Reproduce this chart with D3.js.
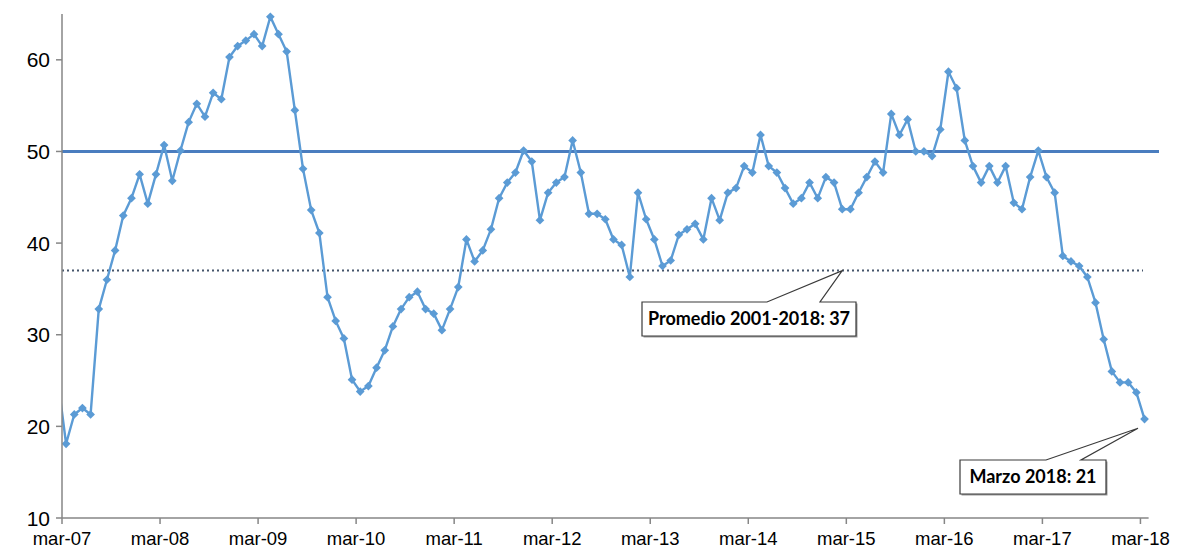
<!DOCTYPE html>
<html><head><meta charset="utf-8">
<script src="https://cdn.jsdelivr.net/npm/d3@7"></script>
<style>body{margin:0;background:#fff}svg{display:block}</style>
</head><body><svg id="c" width="1180" height="549"></svg>
<script>
// ---- DATA ----
// monthly series; first value (feb-07) lies just before the axis start and is clipped
const firstIndex = -1; // feb-07
const values = [25.0,
 18.1,21.3,22.0,21.3,32.8,36.0,39.2,43.0,44.9,47.5,44.3,47.5,
 50.7,46.8,50.1,53.2,55.2,53.8,56.4,55.7,60.3,61.5,62.1,62.8,
 61.5,64.7,62.8,60.9,54.5,48.1,43.6,41.1,34.1,31.5,29.6,25.1,
 23.8,24.4,26.4,28.3,30.9,32.8,34.1,34.7,32.8,32.3,30.5,32.8,
 35.2,40.4,38.0,39.2,41.5,44.9,46.6,47.7,50.1,48.9,42.5,45.5,
 46.6,47.2,51.2,47.7,43.2,43.2,42.6,40.4,39.8,36.3,45.5,42.6,
 40.4,37.5,38.1,40.9,41.5,42.1,40.4,44.9,42.5,45.5,46.0,48.4,
 47.7,51.8,48.4,47.7,46.0,44.3,44.9,46.6,44.9,47.2,46.6,43.7,
 43.7,45.5,47.2,48.9,47.7,54.1,51.8,53.5,50.0,50.0,49.5,52.4,
 58.7,56.9,51.2,48.4,46.6,48.4,46.6,48.4,44.4,43.7,47.2,50.1,
 47.2,45.5,38.6,38.0,37.5,36.3,33.5,29.5,26.0,24.8,24.8,23.7,
 20.8];
const xTickLabels = ["mar-07","mar-08","mar-09","mar-10","mar-11","mar-12","mar-13","mar-14","mar-15","mar-16","mar-17","mar-18"];
const yTicks = [10,20,30,40,50,60];
const refSolid = 50;   // solid horizontal line
const refAvg = 37;     // dotted average line
const annotations = [
  {text:"Promedio 2001-2018: 37", idx:95.0, val:37},
  {text:"Marzo 2018: 21", idx:131.2, val:19.8}
];

// ---- LAYOUT ----
const svg = d3.select("#c");
const L = 62, T = 14, B = 518;
const monthW = 8.17;
const nMonths = 133;
const x = d3.scaleLinear().domain([-0.5, nMonths - 0.5]).range([L, L + nMonths*monthW]);
const y = d3.scaleLinear().domain([10, 65]).range([B, T]);
const R = x(nMonths - 0.5);

const data = values.map((v,i)=>({i:i+firstIndex, v}));

svg.append("defs").append("clipPath").attr("id","pc")
  .append("rect").attr("x",L).attr("y",0).attr("width",R-L+20).attr("height",B+5);

// reference lines
svg.append("line").attr("x1",L).attr("x2",1159).attr("y1",y(refSolid)).attr("y2",y(refSolid))
  .attr("stroke","#4a7dbf").attr("stroke-width",3);
svg.append("line").attr("x1",L).attr("x2",1143).attr("y1",y(refAvg)).attr("y2",y(refAvg))
  .attr("stroke","#44546a").attr("stroke-width",2).attr("stroke-dasharray","2,3");

// series
const g = svg.append("g").attr("clip-path","url(#pc)");
g.append("path").datum(data)
  .attr("d", d3.line().x(d=>x(d.i)).y(d=>y(d.v)))
  .attr("fill","none").attr("stroke","#5b9bd5").attr("stroke-width",2.4).attr("stroke-linejoin","round");
g.selectAll("path.m").data(data.filter(d=>d.i>=0)).enter().append("path").attr("class","m")
  .attr("d", d3.symbol(d3.symbolSquare, 38)())
  .attr("transform", d=>`translate(${x(d.i)},${y(d.v)}) rotate(45)`)
  .attr("fill","#5b9bd5");

// axes
const ax = svg.append("g").attr("font-family","'Liberation Sans', Arial, sans-serif").attr("fill","#000");
ax.append("line").attr("x1",L).attr("x2",L).attr("y1",T).attr("y2",B).attr("stroke","#868686").attr("stroke-width",1.5);
ax.append("line").attr("x1",L).attr("x2",R).attr("y1",B).attr("y2",B).attr("stroke","#868686").attr("stroke-width",1.5);
yTicks.forEach(t=>{
  ax.append("line").attr("x1",L-6).attr("x2",L).attr("y1",y(t)).attr("y2",y(t)).attr("stroke","#868686").attr("stroke-width",1.5);
  ax.append("text").attr("x",L-12).attr("y",y(t)).attr("dy","0.36em").attr("text-anchor","end").attr("font-size",21).text(t);
});
xTickLabels.forEach((lab,k)=>{
  const xp = x(k*12 - 0.5);
  ax.append("line").attr("x1",xp).attr("x2",xp).attr("y1",B).attr("y2",B+6).attr("stroke","#868686").attr("stroke-width",1.5);
  ax.append("text").attr("x",xp).attr("y",545).attr("text-anchor","middle").attr("font-size",18.5).text(lab);
});

// annotations (callout boxes)
const boxes = [
  {x0:642, y0:302, x1:856, y1:336, b0:767, b1:820},
  {x0:960, y0:460, x1:1106, y1:494, b0:1046, b1:1081}
];
annotations.forEach((a,k)=>{
  const bx = boxes[k];
  const tx = x(a.idx), ty = y(a.val);
  svg.append("rect").attr("x",bx.x0+1.5).attr("y",bx.y0+1.5).attr("width",bx.x1-bx.x0).attr("height",bx.y1-bx.y0).attr("fill","#9a9a9a");
  svg.append("path").attr("d",`M${bx.x0},${bx.y0}H${bx.b0}L${tx},${ty}L${bx.b1},${bx.y0}H${bx.x1}V${bx.y1}H${bx.x0}Z`)
    .attr("fill","#fff").attr("stroke","#3a3a3a").attr("stroke-width",1.2);
  svg.append("text").attr("x",(bx.x0+bx.x1)/2).attr("y",(bx.y0+bx.y1)/2).attr("dy","0.36em")
    .attr("text-anchor","middle").attr("font-family","Lato, 'Open Sans', sans-serif").attr("font-weight","bold")
    .attr("font-size",18).attr("fill","#000").text(a.text);
});
</script></body></html>
